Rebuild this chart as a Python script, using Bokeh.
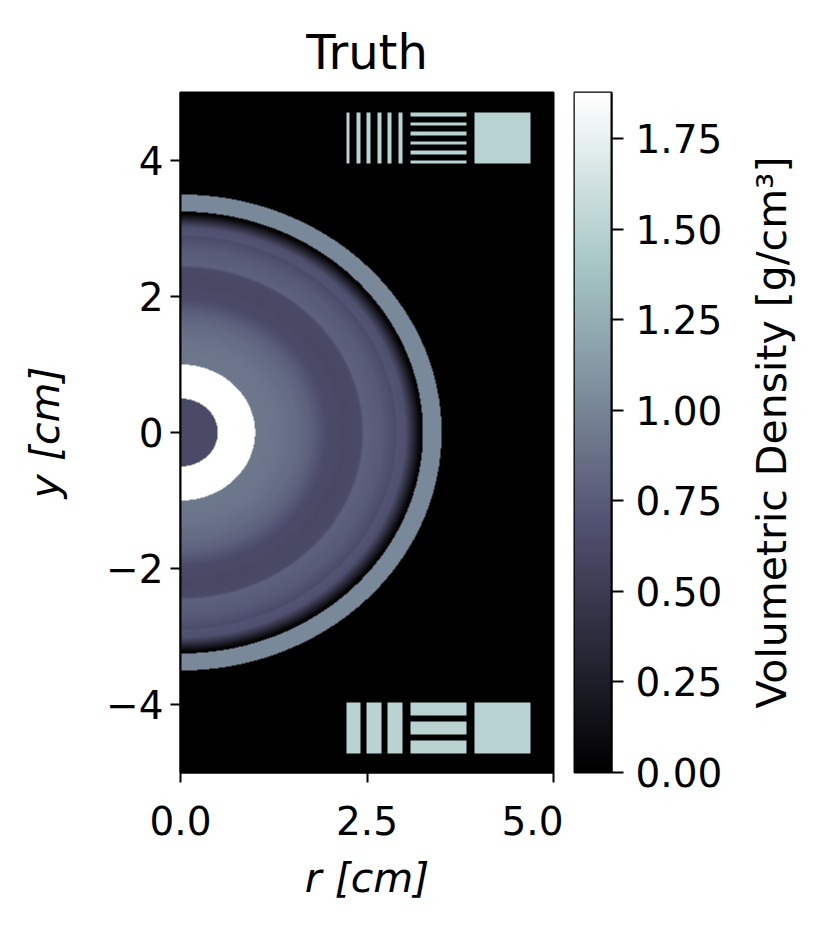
import math
import numpy as np
from bokeh.plotting import figure
from bokeh.models import LinearColorMapper, FixedTicker, Range1d, PrintfTickFormatter
from bokeh.core.properties import value
from bokeh.layouts import row
from bokeh.embed import file_html
from bokeh.resources import INLINE

# ---------------- data ----------------
X_LIMITS = [0.0, 5.0]          # r [cm]
Y_LIMITS = [-5.0, 5.0]         # y [cm]
VMAX = 1.877                   # colour-scale maximum [g/cm^3]

CORE_RADIUS = 0.5
CORE_DENSITY = 0.62
RING_OUTER = 1.0
RING_DENSITY = 1.877

PROFILE_R = [1.00, 1.30, 1.55, 1.75, 1.95, 2.20, 2.42, 2.46, 2.70, 2.88, 2.92, 3.02, 3.12, 3.22, 3.25]
PROFILE_RHO = [0.92, 0.90, 0.85, 0.78, 0.64, 0.60, 0.62, 0.78, 0.74, 0.64, 0.70, 0.66, 0.35, 0.02, 0.00]

SHELL_INNER = 3.25
SHELL_OUTER = 3.5
SHELL_DENSITY = 1.02

PATTERN_DENSITY = 1.5
GROUP_X0 = [2.22, 3.08, 3.94]          # vertical lines, horizontal lines, square
GROUP_WIDTH = 0.75
TOP_ROW = [3.95, 4.70]
BOTTOM_ROW = [-4.72, -3.97]
TOP_LINES = 6
TOP_LINE_WIDTH = 0.05
BOTTOM_LINES = 3
BOTTOM_LINE_WIDTH = 0.19

X_TICKS = [0.0, 2.5, 5.0]
Y_TICKS = [-4, -2, 0, 2, 4]
CB_TICKS = [0.0, 0.25, 0.5, 0.75, 1.0, 1.25, 1.5, 1.75]

TITLE = "Truth"
X_LABEL = "r [cm]"
Y_LABEL = "y [cm]"
CB_LABEL = "Volumetric Density [g/cm\u00b3]"

# ---------------- bone colormap (matplotlib segment data) ----------------
t = np.linspace(0, 1, 256)
red = np.interp(t, [0, 0.746032, 1], [0, 0.652778, 1])
green = np.interp(t, [0, 0.365079, 0.746032, 1], [0, 0.319444, 0.777778, 1])
blue = np.interp(t, [0, 0.365079, 1], [0, 0.444444, 1])
BONE = ["#%02x%02x%02x" % (int(round(r * 255)), int(round(g * 255)), int(round(b * 255)))
        for r, g, b in zip(red, green, blue)]
mapper = LinearColorMapper(palette=BONE, low=0, high=VMAX)

# ---------------- build density field ----------------
NX, NY = 373, 680
xs = X_LIMITS[0] + (np.arange(NX) + 0.5) * (X_LIMITS[1] - X_LIMITS[0]) / NX
ys = Y_LIMITS[0] + (np.arange(NY) + 0.5) * (Y_LIMITS[1] - Y_LIMITS[0]) / NY
XX, YY = np.meshgrid(xs, ys)
RR = np.sqrt(XX ** 2 + YY ** 2)

field = np.zeros_like(RR)
m = (RR >= PROFILE_R[0]) & (RR < PROFILE_R[-1])
field[m] = np.interp(RR[m], PROFILE_R, PROFILE_RHO)
field[RR < RING_OUTER] = RING_DENSITY
field[RR < CORE_RADIUS] = CORE_DENSITY
field[(RR >= SHELL_INNER) & (RR < SHELL_OUTER)] = SHELL_DENSITY


def add_pattern(rowlim, n, w):
    y0, y1 = rowlim
    inrow = (YY >= y0) & (YY < y1)
    gx = GROUP_X0[0]
    gap = (GROUP_WIDTH - n * w) / (n - 1)
    for i in range(n):
        a = gx + i * (w + gap)
        field[inrow & (XX >= a) & (XX < a + w)] = PATTERN_DENSITY
    gx = GROUP_X0[1]
    hgap = ((y1 - y0) - n * w) / (n - 1)
    for i in range(n):
        a = y0 + i * (w + hgap)
        field[(YY >= a) & (YY < a + w) & (XX >= gx) & (XX < gx + GROUP_WIDTH)] = PATTERN_DENSITY
    gx = GROUP_X0[2]
    field[inrow & (XX >= gx) & (XX < gx + GROUP_WIDTH)] = PATTERN_DENSITY


add_pattern(TOP_ROW, TOP_LINES, TOP_LINE_WIDTH)
add_pattern(BOTTOM_ROW, BOTTOM_LINES, BOTTOM_LINE_WIDTH)

FONT = "DejaVu Sans"
TICK_FS = "39px"
LABEL_FS = "41px"

# ---------------- main figure ----------------
p = figure(x_range=Range1d(*X_LIMITS), y_range=Range1d(*Y_LIMITS),
           frame_width=373, frame_height=680,
           min_border_left=180, min_border_right=10, min_border_top=92, min_border_bottom=150,
           output_backend="svg", toolbar_location=None, title=TITLE)
p.image(image=[field], x=X_LIMITS[0], y=Y_LIMITS[0],
        dw=X_LIMITS[1] - X_LIMITS[0], dh=Y_LIMITS[1] - Y_LIMITS[0], color_mapper=mapper)
p.grid.visible = False
p.outline_line_color = "black"
p.outline_line_width = 2
p.background_fill_color = "white"
p.border_fill_color = "white"

p.title.text_font = FONT
p.title.text_font_size = "48px"
p.title.text_font_style = "normal"
p.title.align = "center"
p.title.text_color = "black"
p.title.standoff = 25

for ax in (p.xaxis[0], p.yaxis[0]):
    ax.major_tick_out = 10
    ax.major_tick_in = 0
    ax.minor_tick_out = 0
    ax.minor_tick_in = 0
    ax.major_tick_line_width = 2
    ax.major_tick_line_color = "black"
    ax.axis_line_width = 2
    ax.axis_line_color = "black"
    ax.major_label_text_font = FONT
    ax.major_label_text_font_size = TICK_FS
    ax.major_label_text_color = "black"
    ax.axis_label_text_font = FONT
    ax.axis_label_text_font_size = LABEL_FS
    ax.axis_label_text_font_style = "italic"
    ax.axis_label_text_color = "black"

p.xaxis.major_label_standoff = 23
p.yaxis.major_label_standoff = 7
p.xaxis.ticker = FixedTicker(ticks=X_TICKS)
p.xaxis.formatter = PrintfTickFormatter(format="%.1f")
p.yaxis.ticker = FixedTicker(ticks=Y_TICKS)
p.yaxis.major_label_overrides = {v: (("\u2212%d" % -v) if v < 0 else "%d" % v) for v in Y_TICKS}
p.xaxis.axis_label = X_LABEL
p.yaxis.axis_label = Y_LABEL
p.xaxis.axis_label_standoff = 16
p.yaxis.axis_label_standoff = 34

# ---------------- colour bar figure ----------------
cb = figure(x_range=Range1d(0, 1), y_range=Range1d(0, VMAX),
            frame_width=37, frame_height=680,
            min_border_left=11, min_border_right=130, min_border_top=92, min_border_bottom=150,
            y_axis_location="right", output_backend="svg", toolbar_location=None)
grad = np.linspace(0, VMAX, 512).reshape(-1, 1)
cb.image(image=[grad], x=0, y=0, dw=1, dh=VMAX, color_mapper=mapper)
cb.xaxis.visible = False
cb.grid.visible = False
cb.outline_line_color = "black"
cb.outline_line_width = 2
ax = cb.yaxis[0]
ax.ticker = FixedTicker(ticks=CB_TICKS)
ax.formatter = PrintfTickFormatter(format="%.2f")
ax.major_tick_out = 12
ax.major_tick_in = 0
ax.minor_tick_out = 0
ax.minor_tick_in = 0
ax.major_tick_line_width = 2
ax.major_tick_line_color = "black"
ax.axis_line_width = 2
ax.axis_line_color = "black"
ax.major_label_text_font = FONT
ax.major_label_text_font_size = TICK_FS
ax.major_label_text_color = "black"
ax.major_label_standoff = 12

# ---------------- colour bar label (rotated, reading upward) ----------------
lab = figure(x_range=Range1d(0, 1), y_range=Range1d(0, 1),
             frame_width=60, frame_height=680,
             min_border_left=0, min_border_right=0, min_border_top=92, min_border_bottom=150,
             x_axis_location=None, y_axis_location=None,
             output_backend="svg", toolbar_location=None)
lab.grid.visible = False
lab.outline_line_color = None
lab.text(x=[0.5], y=[0.5], text=[CB_LABEL], angle=math.pi / 2,
         text_align="center", text_baseline="middle",
         text_font=value(FONT), text_font_size=LABEL_FS, text_color="black")

layout = row(p, cb, lab)
open("out.html", "w").write(file_html(layout, INLINE))
